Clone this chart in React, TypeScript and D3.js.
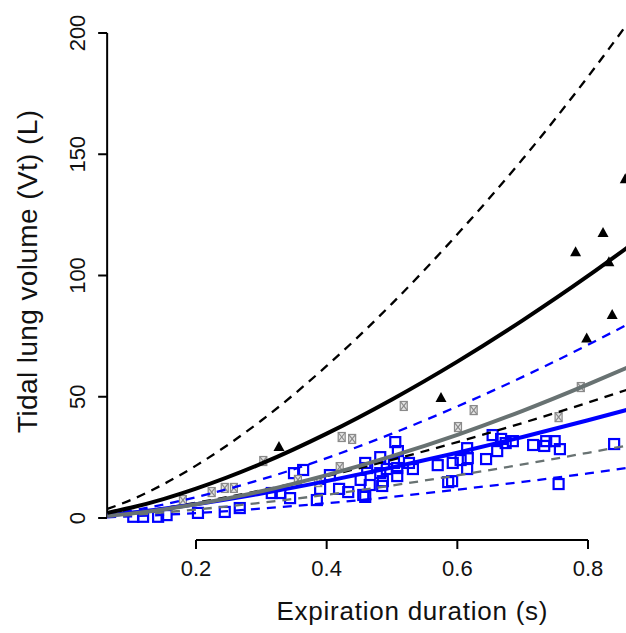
import React from 'react';
import * as d3 from 'd3';

// fitted curves, values at these durations (s)
const curveX = [0.064, 0.1, 0.15, 0.2, 0.3, 0.4, 0.5, 0.6, 0.7, 0.8, 0.86];
const blackFit = [2.1, 4.2, 7.8, 12.1, 22.4, 34.8, 48.9, 64.5, 81.5, 99.8, 111.5];
const blackUpper = [3.7, 7.4, 13.9, 21.6, 40.2, 62.7, 88.4, 117, 148, 182, 203.7];
const blackLower = [1.2, 2.3, 4.1, 6.3, 11.4, 17.3, 24.0, 31.3, 39.2, 47.6, 52.9];
const greyFit = [0.9, 1.8, 3.5, 5.7, 11.0, 17.7, 25.5, 34.3, 44.2, 55.1, 62.0];
const greyLower = [0.6, 1.2, 2.3, 3.5, 6.3, 9.6, 13.4, 17.6, 22.1, 26.9, 29.9];
const blueFit = [1.1, 2.1, 3.8, 5.7, 10.1, 15.2, 20.8, 26.9, 33.4, 40.3, 44.6];
const blueUpper = [1.5, 3.0, 5.5, 8.6, 15.9, 24.7, 34.8, 46.0, 58.2, 71.4, 79.8];
const blueLower = [0.3, 0.7, 1.3, 2.0, 3.9, 6.1, 8.7, 11.7, 14.9, 18.4, 20.7];

// observations
const blueX = [0.104, 0.119, 0.142, 0.155, 0.203, 0.244, 0.267, 0.316, 0.329, 0.344, 0.35, 0.364,
  0.385, 0.39, 0.405, 0.419, 0.433, 0.452, 0.456, 0.459, 0.459, 0.462, 0.466, 0.482, 0.482, 0.485,
  0.486, 0.492, 0.503, 0.505, 0.508, 0.508, 0.509, 0.526, 0.532, 0.57, 0.586, 0.592, 0.593, 0.605,
  0.615, 0.615, 0.616, 0.644, 0.654, 0.661, 0.667, 0.674, 0.685, 0.716, 0.733, 0.736, 0.749, 0.755,
  0.757, 0.84];
const blueY = [0.5, 0.5, 0.5, 1.2, 2.1, 2.5, 4.1, 10.3, 10.3, 8.2, 18.5, 19.8,
  7.4, 12.0, 17.7, 12.0, 10.7, 15.7, 9.5, 8.7, 22.7, 20.6, 13.6, 25.1, 18.5, 13.2,
  15.2, 20.2, 22.7, 31.3, 20.6, 17.3, 27.6, 22.7, 20.2, 21.8, 14.8, 15.2, 22.7, 23.9,
  28.8, 20.2, 24.7, 24.3, 34.2, 27.6, 32.6, 30.9, 31.7, 30.1, 29.7, 31.7, 31.7, 14.0,
  28.4, 30.5];

const greyX = [0.18, 0.224, 0.244, 0.258, 0.303, 0.356, 0.387, 0.42, 0.423, 0.439, 0.518, 0.601, 0.625, 0.755, 0.789];
const greyY = [7.4, 10.7, 12.4, 12.4, 23.5, 15.7, 14.8, 21.0, 33.4, 32.6, 46.2, 37.5, 44.5, 41.6, 54.0];

const triX = [0.327, 0.575, 0.781, 0.798, 0.823, 0.832, 0.837, 0.857];
const triY = [29.3, 49.5, 109.6, 74.0, 117.5, 105.5, 83.7, 139.7];

const xTicks = [0.2, 0.4, 0.6, 0.8];
const yTicks = [0, 50, 100, 150, 200];

const BLUE = '#0000ff';
const GREY = '#687272';
const FONT = '"Liberation Sans", Arial, sans-serif';

const App = () => {
  const width = 626;
  const height = 633;

  const x = d3.scaleLinear().domain([0.2, 0.8]).range([196, 588]);
  const y = d3.scaleLinear().domain([0, 200]).range([518, 33]);

  const line = d3.line<number>()
    .x((_, i) => x(curveX[i]))
    .y(d => y(d))
    .curve(d3.curveMonotoneX);

  const curves = [
    { vals: blueLower, color: BLUE, dash: true },
    { vals: greyLower, color: GREY, dash: true },
    { vals: blackLower, color: '#000', dash: true },
    { vals: blueUpper, color: BLUE, dash: true },
    { vals: blackUpper, color: '#000', dash: true },
    { vals: blueFit, color: BLUE, dash: false },
    { vals: greyFit, color: GREY, dash: false },
    { vals: blackFit, color: '#000', dash: false },
  ];

  const x0 = x(0.064);

  return (
    <svg width={width} height={height} style={{ position: 'absolute', left: 0, top: 0, background: '#fff' }}
      fontFamily={FONT}>
      <defs>
        <clipPath id="plot">
          <rect x={x0} y={0} width={width - x0} height={545} />
        </clipPath>
      </defs>

      {/* y axis */}
      <line x1={x0} x2={x0} y1={y(0)} y2={y(200)} stroke="#000" strokeWidth={2} />
      {yTicks.map(t => (
        <g key={t}>
          <line x1={x0 - 9} x2={x0} y1={y(t)} y2={y(t)} stroke="#000" strokeWidth={2} />
          <text transform={`translate(85, ${y(t)}) rotate(-90)`} textAnchor="middle" fontSize={22}
            fill="#111">{t}</text>
        </g>
      ))}

      {/* x axis */}
      <line x1={x(0.2)} x2={x(0.8)} y1={540} y2={540} stroke="#000" strokeWidth={2} />
      {xTicks.map(t => (
        <g key={t}>
          <line x1={x(t)} x2={x(t)} y1={540} y2={549} stroke="#000" strokeWidth={2} />
          <text x={x(t)} y={576} textAnchor="middle" fontSize={22} fill="#111">{t.toFixed(1)}</text>
        </g>
      ))}

      <text x={412} y={620} textAnchor="middle" fontSize={26} textLength={271} fill="#111">
        Expiration duration (s)
      </text>
      <text transform="translate(37, 271.5) rotate(-90)" textAnchor="middle" fontSize={28}
        textLength={323} fill="#111">Tidal lung volume (Vt) (L)</text>

      <g clipPath="url(#plot)">
        {blueX.map((v, i) => (
          <rect key={'b' + i} x={x(v) - 5} y={y(blueY[i]) - 5} width={10} height={10}
            fill="none" stroke={BLUE} strokeWidth={2.2} />
        ))}
        {greyX.map((v, i) => {
          const cx = x(v);
          const cy = y(greyY[i]);
          return (
            <g key={'g' + i} stroke="#8a8a8a" strokeWidth={1.2}>
              <rect x={cx - 3.5} y={cy - 4.5} width={7} height={9} fill="#e4e4e4" />
              <line x1={cx - 3.5} y1={cy - 4.5} x2={cx + 3.5} y2={cy + 4.5} />
              <line x1={cx + 3.5} y1={cy - 4.5} x2={cx - 3.5} y2={cy + 4.5} />
            </g>
          );
        })}
        {triX.map((v, i) => {
          const cx = x(v);
          const cy = y(triY[i]);
          return (
            <path key={'t' + i} d={`M${cx},${cy - 6}L${cx + 5.5},${cy + 4}L${cx - 5.5},${cy + 4}Z`}
              fill="#000" />
          );
        })}
        {curves.map((c, i) => (
          <path key={'c' + i} d={line(c.vals) || ''} fill="none" stroke={c.color}
            strokeWidth={c.dash ? 2.3 : 4} strokeDasharray={c.dash ? '9 7' : undefined} />
        ))}
      </g>
    </svg>
  );
};

export default App;
